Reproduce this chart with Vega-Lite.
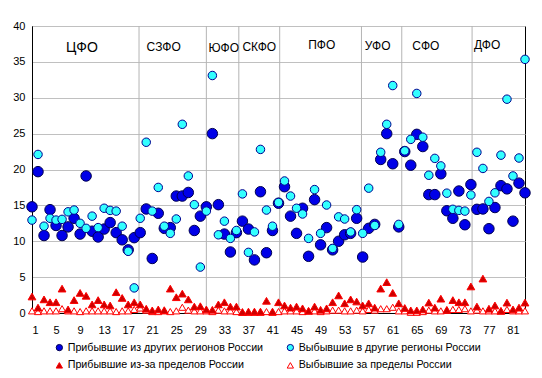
{
  "$schema": "https://vega.github.io/schema/vega-lite/v6.json",
  "width": 493,
  "height": 287,
  "autosize": {"type": "none"},
  "padding": {"left": 32, "top": 26, "right": 17, "bottom": 65},
  "background": "white",
  "config": {
    "font": "Liberation Sans",
    "view": {"stroke": "black", "strokeWidth": 1},
    "axis": {"labelFont": "Liberation Sans", "labelFontSize": 11, "labelColor": "black", "ticks": false, "domainColor": "black", "title": null, "labelOverlap": false},
    "legend": {"labelFont": "Liberation Sans", "labelFontSize": 10.7, "labelColor": "black", "symbolSize": 40, "symbolStrokeWidth": 1, "labelLimit": 400, "padding": 0, "labelOffset": 3}
  },
  "datasets": {
    "regions": [
      {"r":1,"a":14.8,"b":12.95,"c":2.3,"d":0.3},
      {"r":2,"a":19.7,"b":22.1,"c":0.75,"d":0.2},
      {"r":3,"a":10.8,"b":12.1,"c":1.9,"d":0.3},
      {"r":4,"a":14.4,"b":13.2,"c":1.5,"d":0.3},
      {"r":5,"a":12.2,"b":12.95,"c":1.5,"d":0.3},
      {"r":6,"a":10.8,"b":13.05,"c":3.4,"d":0.6},
      {"r":7,"a":12.0,"b":14.1,"c":0.5,"d":0.3},
      {"r":8,"a":13.2,"b":14.35,"c":1.8,"d":0.3},
      {"r":9,"a":11.0,"b":12.5,"c":2.8,"d":0.2},
      {"r":10,"a":19.1,"b":11.8,"c":2.4,"d":0.3},
      {"r":11,"a":11.4,"b":13.5,"c":1.2,"d":0.3},
      {"r":12,"a":10.6,"b":11.9,"c":1.8,"d":0.3},
      {"r":13,"a":11.7,"b":14.6,"c":1.2,"d":0.3},
      {"r":14,"a":12.6,"b":14.3,"c":1.05,"d":0.3},
      {"r":15,"a":11.2,"b":14.2,"c":2.9,"d":0.2},
      {"r":16,"a":10.2,"b":12.1,"c":2.1,"d":0.3},
      {"r":17,"a":8.8,"b":8.6,"c":1.2,"d":0.3},
      {"r":18,"a":10.5,"b":3.5,"c":1.5,"d":0.5},
      {"r":19,"a":11.2,"b":13.2,"c":1.2,"d":0.7},
      {"r":20,"a":14.5,"b":23.8,"c":0.6,"d":0.4},
      {"r":21,"a":7.6,"b":14.2,"c":0.37,"d":0.2},
      {"r":22,"a":13.9,"b":17.5,"c":0.5,"d":0.2},
      {"r":23,"a":11.8,"b":12.1,"c":0.4,"d":0.3},
      {"r":24,"a":11.9,"b":11.1,"c":3.4,"d":0.2},
      {"r":25,"a":16.3,"b":13.1,"c":2.2,"d":0.3},
      {"r":26,"a":16.3,"b":26.3,"c":2.7,"d":0.8},
      {"r":27,"a":16.8,"b":19.1,"c":1.9,"d":0.4},
      {"r":28,"a":11.5,"b":15.1,"c":0.9,"d":0.3},
      {"r":29,"a":13.5,"b":6.4,"c":0.95,"d":0.3},
      {"r":30,"a":14.8,"b":14.2,"c":0.5,"d":0.3},
      {"r":31,"a":25.0,"b":33.1,"c":0.45,"d":0.2},
      {"r":32,"a":15.1,"b":10.9,"c":1.2,"d":0.4},
      {"r":33,"a":11.0,"b":12.8,"c":1.5,"d":0.3},
      {"r":34,"a":8.5,"b":10.4,"c":0.9,"d":0.3},
      {"r":35,"a":11.2,"b":11.5,"c":0.9,"d":0.2},
      {"r":36,"a":12.8,"b":16.6,"c":0.15,"d":0.1},
      {"r":37,"a":11.7,"b":8.45,"c":0.2,"d":0.1},
      {"r":38,"a":7.4,"b":11.3,"c":0.2,"d":0.1},
      {"r":39,"a":16.9,"b":22.8,"c":0.2,"d":0.1},
      {"r":40,"a":8.4,"b":14.35,"c":1.7,"d":0.2},
      {"r":41,"a":11.5,"b":12.1,"c":0.2,"d":0.1},
      {"r":42,"a":15.3,"b":15.4,"c":1.5,"d":0.2},
      {"r":43,"a":17.6,"b":18.4,"c":1.05,"d":0.3},
      {"r":44,"a":13.5,"b":16.3,"c":0.75,"d":0.3},
      {"r":45,"a":11.1,"b":14.6,"c":0.9,"d":0.3},
      {"r":46,"a":14.6,"b":13.8,"c":0.65,"d":0.2},
      {"r":47,"a":7.9,"b":10.4,"c":0.3,"d":0.3},
      {"r":48,"a":15.8,"b":17.2,"c":0.9,"d":0.3},
      {"r":49,"a":9.5,"b":11.1,"c":0.45,"d":0.2},
      {"r":50,"a":11.9,"b":15.05,"c":0.65,"d":0.3},
      {"r":51,"a":8.8,"b":9.0,"c":1.5,"d":0.4},
      {"r":52,"a":10.0,"b":13.4,"c":2.45,"d":0.4},
      {"r":53,"a":10.9,"b":13.1,"c":1.35,"d":0.3},
      {"r":54,"a":11.1,"b":11.3,"c":1.9,"d":0.3},
      {"r":55,"a":13.2,"b":14.4,"c":1.6,"d":0.4},
      {"r":56,"a":7.8,"b":11.1,"c":1.05,"d":0.3},
      {"r":57,"a":11.8,"b":17.4,"c":1.35,"d":0.5},
      {"r":58,"a":12.35,"b":12.2,"c":0.75,"d":0.4},
      {"r":59,"a":21.4,"b":22.4,"c":3.4,"d":0.6},
      {"r":60,"a":25.0,"b":26.3,"c":4.3,"d":0.6},
      {"r":61,"a":20.8,"b":31.7,"c":2.8,"d":0.8},
      {"r":62,"a":12.0,"b":12.35,"c":1.35,"d":0.3},
      {"r":63,"a":22.5,"b":22.6,"c":0.7,"d":0.3},
      {"r":64,"a":20.6,"b":24.2,"c":0.37,"d":0.1},
      {"r":65,"a":24.9,"b":30.6,"c":0.37,"d":0.1},
      {"r":66,"a":23.2,"b":24.5,"c":0.5,"d":0.2},
      {"r":67,"a":16.5,"b":19.2,"c":1.45,"d":0.4},
      {"r":68,"a":16.5,"b":21.55,"c":0.75,"d":0.3},
      {"r":69,"a":19.4,"b":20.5,"c":2.0,"d":0.3},
      {"r":70,"a":14.25,"b":16.7,"c":0.45,"d":0.4},
      {"r":71,"a":13.2,"b":14.45,"c":1.8,"d":0.5},
      {"r":72,"a":17.0,"b":14.3,"c":1.5,"d":0.5},
      {"r":73,"a":12.3,"b":14.2,"c":1.5,"d":0.6},
      {"r":74,"a":17.9,"b":16.45,"c":3.7,"d":0.3},
      {"r":75,"a":14.45,"b":22.4,"c":0.9,"d":0.4},
      {"r":76,"a":14.5,"b":20.15,"c":4.8,"d":0.3},
      {"r":77,"a":11.75,"b":15.55,"c":0.6,"d":0.3},
      {"r":78,"a":14.7,"b":16.75,"c":1.05,"d":0.3},
      {"r":79,"a":17.75,"b":22.0,"c":0.3,"d":0.3},
      {"r":80,"a":17.3,"b":29.8,"c":1.45,"d":0.5},
      {"r":81,"a":12.8,"b":19.1,"c":0.5,"d":0.3},
      {"r":82,"a":18.1,"b":21.6,"c":0.75,"d":0.3},
      {"r":83,"a":16.75,"b":35.35,"c":1.45,"d":0.3}
    ],
    "separators": [
      {"pos": 18.8}, {"pos": 30.0}, {"pos": 35.4}, {"pos": 42.2}, {"pos": 55.8}, {"pos": 62.5}, {"pos": 74.2}
    ],
    "districts": [
      {"name": "СЗФО", "x": 22.9, "y": 37.1},
      {"name": "ЮФО", "x": 32.9, "y": 37.0},
      {"name": "СКФО", "x": 38.8, "y": 37.1},
      {"name": "ПФО", "x": 49.2, "y": 37.3},
      {"name": "УФО", "x": 58.5, "y": 37.2},
      {"name": "СФО", "x": 66.5, "y": 37.2},
      {"name": "ДФО", "x": 76.7, "y": 37.35}
    ],
    "main": [
      {"name": "ЦФО", "x": 9.3, "y": 36.9}
    ]
  },
  "encoding": {
    "x": {"type": "quantitative", "scale": {"domain": [1, 83], "nice": false, "zero": false}, "axis": {"values": [1,5,9,13,17,21,25,29,33,37,41,45,49,53,57,61,65,69,73,77,81], "grid": false, "labelPadding": 11, "domain": true}},
    "y": {"type": "quantitative", "scale": {"domain": [0, 40], "nice": false}, "axis": {"values": [0,5,10,15,20,25,30,35,40], "grid": true, "gridColor": "#c0c0c0", "labelPadding": 7}}
  },
  "layer": [
    {
      "data": {"name": "separators"},
      "mark": {"type": "rule", "color": "#b4b4b4", "strokeWidth": 1},
      "encoding": {
        "x": {"field": "pos", "type": "quantitative"},
        "y": null
      }
    },
    {
      "data": {"name": "main"},
      "mark": {"type": "text", "fontSize": 14, "font": "Liberation Sans", "color": "black", "align": "center", "baseline": "middle"},
      "encoding": {
        "x": {"field": "x", "type": "quantitative"},
        "y": {"field": "y", "type": "quantitative"},
        "text": {"field": "name"}
      }
    },
    {
      "data": {"name": "districts"},
      "mark": {"type": "text", "fontSize": 12, "font": "Liberation Sans", "color": "black", "align": "center", "baseline": "middle"},
      "encoding": {
        "x": {"field": "x", "type": "quantitative"},
        "y": {"field": "y", "type": "quantitative"},
        "text": {"field": "name"}
      }
    },
    {
      "data": {"name": "regions"},
      "transform": [{"fold": ["a", "b", "c", "d"], "as": ["s", "v"]}],
      "encoding": {
        "x": {"field": "r", "type": "quantitative"},
        "y": {"field": "v", "type": "quantitative"},
        "fill": {"field": "s", "type": "nominal", "scale": {"domain": ["a", "c", "b", "d"], "range": ["#0000e8", "#cc0000", "#33ffff", "#ffffff"]},
          "legend": {"orient": "none", "legendX": 22, "legendY": 316, "columns": 2, "columnPadding": 21, "rowPadding": 6, "title": null,
            "labelExpr": "{'a':'Прибывшие из других регионов России','b':'Выбывшие в другие регионы России','c':'Прибывшие из-за пределов России','d':'Выбывшие за пределы России'}[datum.label]"}},
        "stroke": {"field": "s", "type": "nominal", "scale": {"domain": ["a", "c", "b", "d"], "range": ["#000050", "#ff0000", "#000090", "#ff0000"]},
          "legend": {"orient": "none", "legendX": 22, "legendY": 316, "columns": 2, "columnPadding": 21, "rowPadding": 6, "title": null,
            "labelExpr": "{'a':'Прибывшие из других регионов России','b':'Выбывшие в другие регионы России','c':'Прибывшие из-за пределов России','d':'Выбывшие за пределы России'}[datum.label]"}},
        "shape": {"field": "s", "type": "nominal", "scale": {"domain": ["a", "c", "b", "d"], "range": ["circle", "triangle-up", "circle", "triangle-up"]},
          "legend": {"orient": "none", "legendX": 22, "legendY": 316, "columns": 2, "columnPadding": 21, "rowPadding": 6, "title": null,
            "labelExpr": "{'a':'Прибывшие из других регионов России','b':'Выбывшие в другие регионы России','c':'Прибывшие из-за пределов России','d':'Выбывшие за пределы России'}[datum.label]"}}
      },
      "layer": [
        {"transform": [{"filter": "datum.s === 'a'"}], "mark": {"type": "point", "filled": true, "size": 110, "opacity": 1, "strokeWidth": 1}},
        {"transform": [{"filter": "datum.s === 'b'"}], "mark": {"type": "point", "filled": true, "size": 72, "opacity": 1, "strokeWidth": 1}},
        {"transform": [{"filter": "datum.s === 'd'"}], "mark": {"type": "point", "filled": true, "size": 50, "opacity": 1, "strokeWidth": 1}},
        {"transform": [{"filter": "datum.s === 'c'"}], "mark": {"type": "point", "filled": true, "size": 60, "opacity": 1, "strokeWidth": 1}}
      ]
    }
  ]
}
